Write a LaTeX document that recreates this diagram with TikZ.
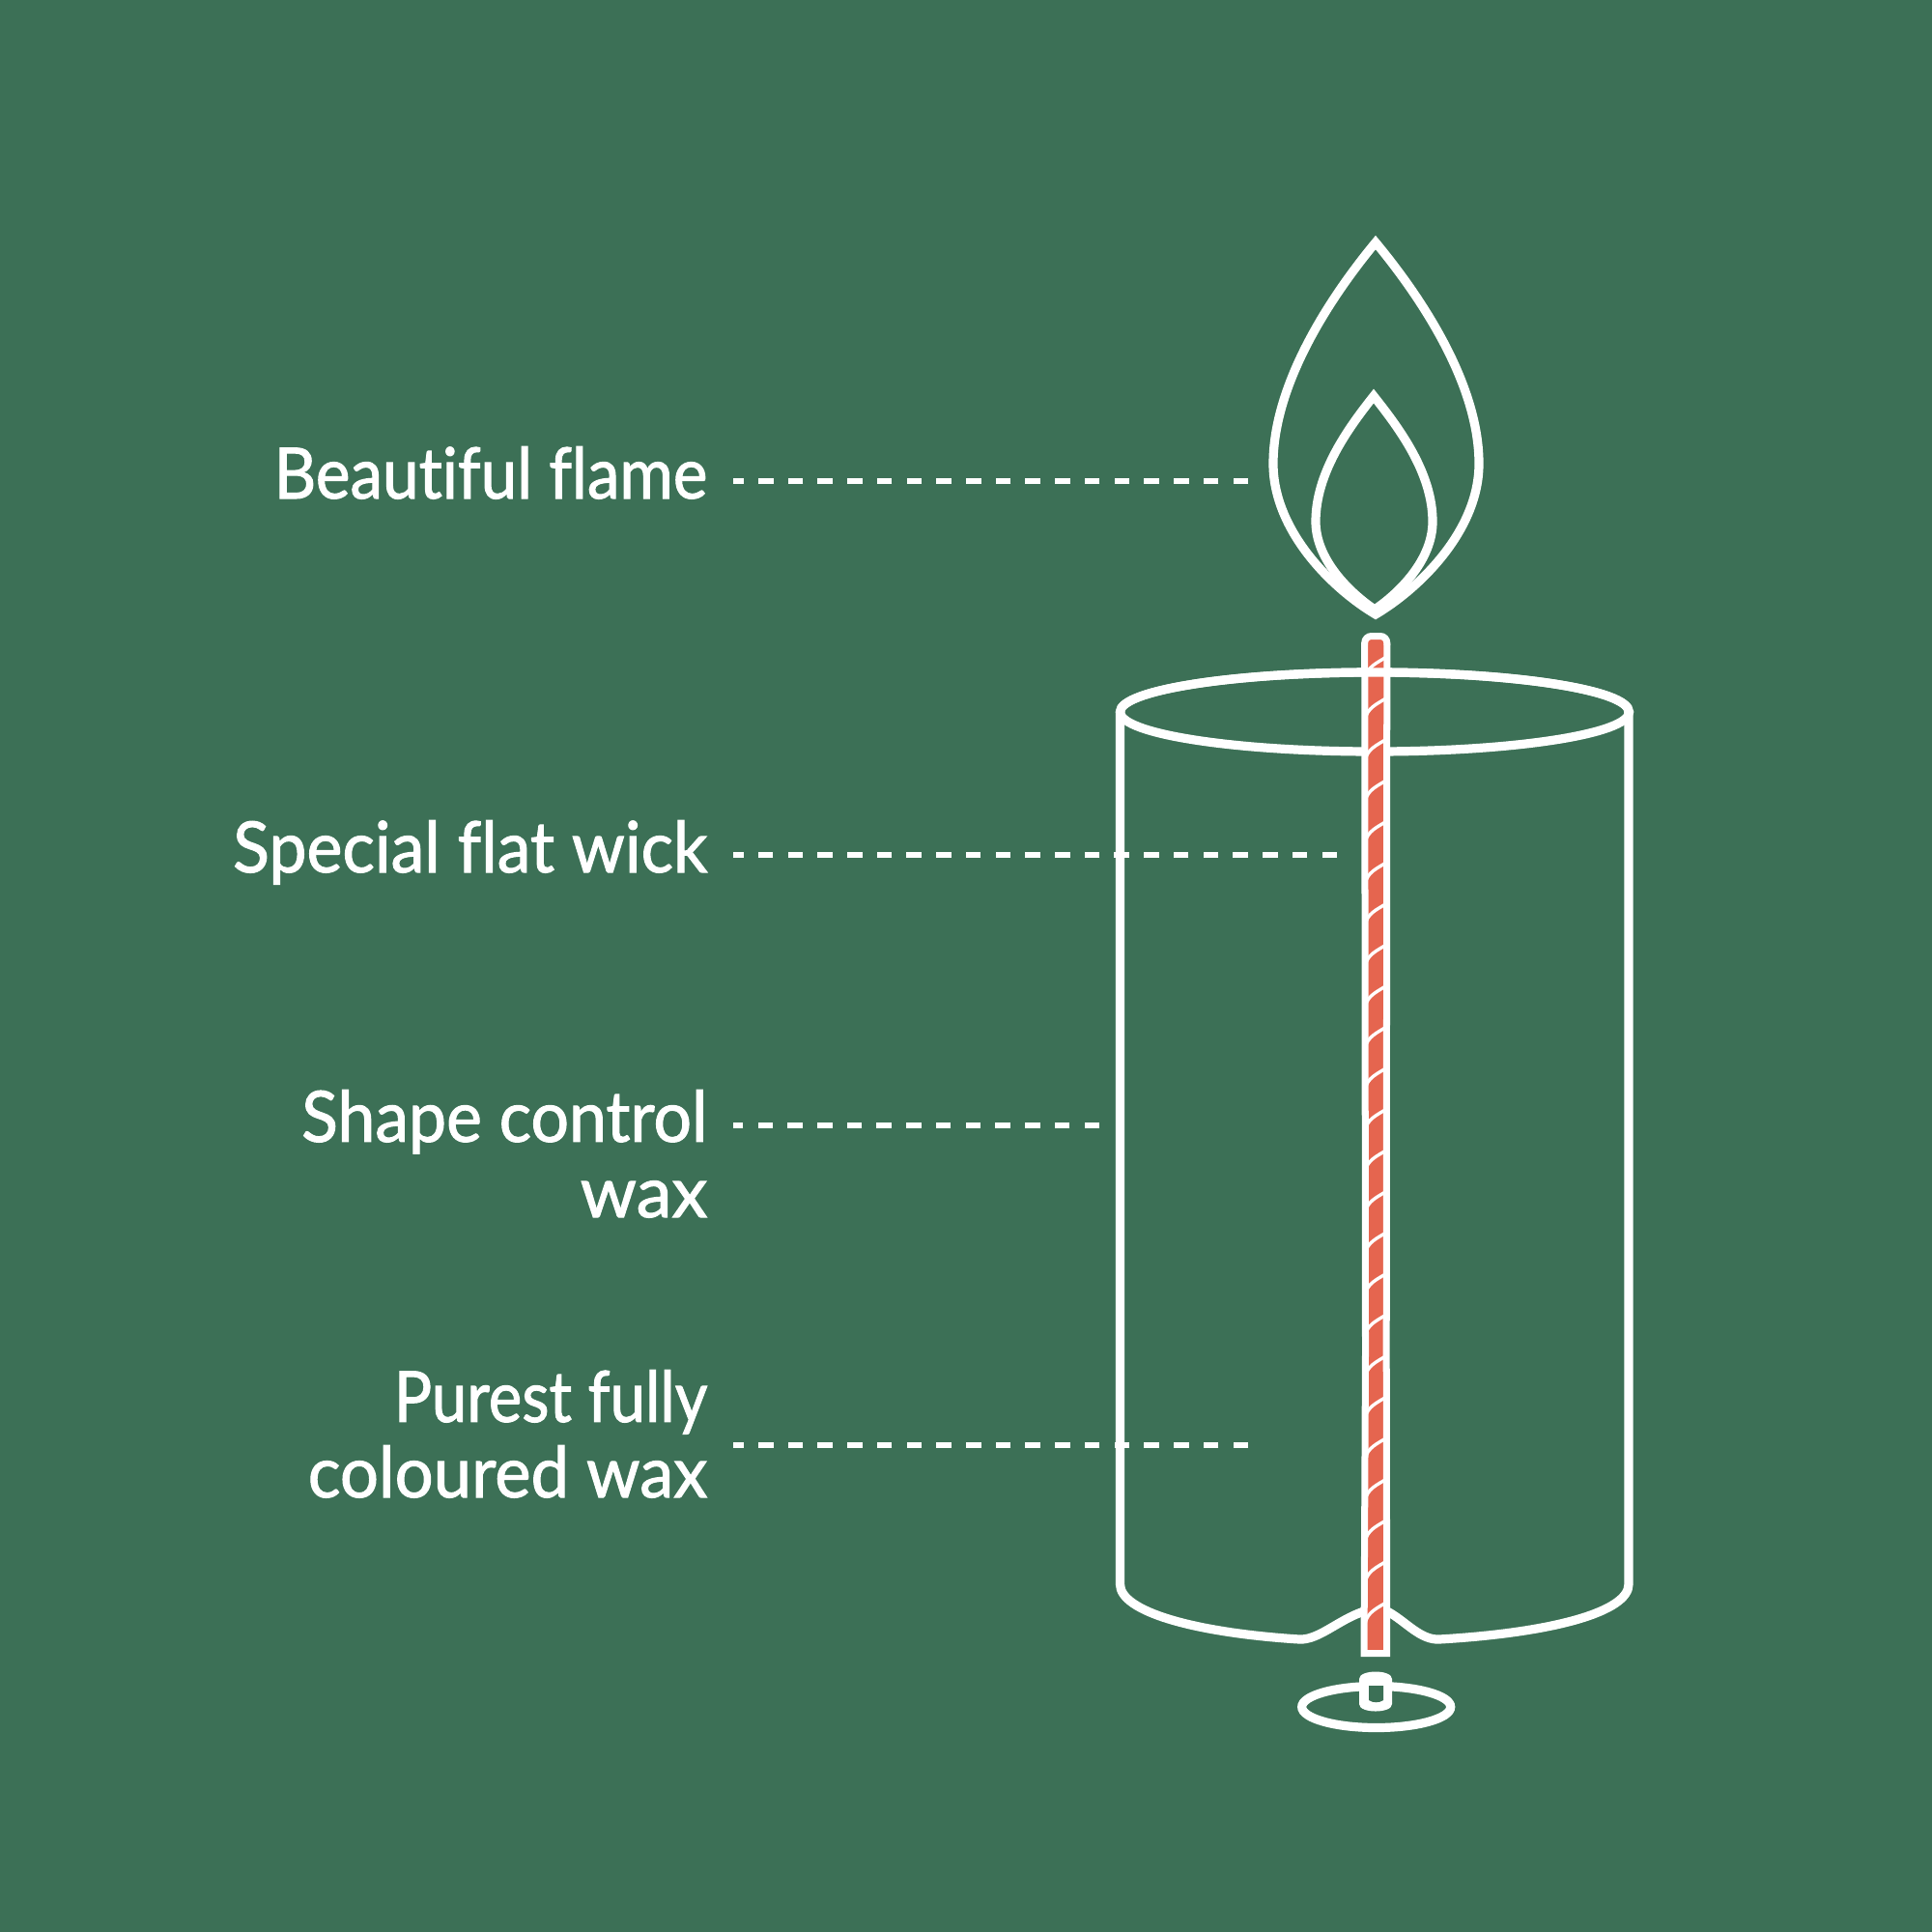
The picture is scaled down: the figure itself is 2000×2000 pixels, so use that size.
\documentclass[tikz,border=0pt]{standalone}
\usepackage{graphicx}
\usepackage{fontspec}
\setmainfont[FakeStretch=0.965, FakeBold=1.4, Ligatures=NoCommon]{Lato}
\usetikzlibrary{calc}
\definecolor{pine}{HTML}{3C7056}
\definecolor{ember}{HTML}{E5654F}
\newcommand{\narrowed}[2]{\scalebox{#1}[1]{#2}}
\tikzset{
  x=0.01cm, y=-0.01cm,
  outline/.style={draw=white, line width=0.092cm, line join=miter, miter limit=10},
  wickwall/.style={draw=white, line width=0.07cm},
  twist/.style={draw=white, line width=0.034cm},
  leader/.style={draw=white, line width=0.06cm, dash pattern=on 0.155cm off 0.152cm},
  caption/.style={anchor=base east, text=white, inner sep=0pt, align=right,
    font=\fontsize{20.8}{22.2}\selectfont}
}
\begin{document}
\begin{tikzpicture}
\useasboundingbox[fill=pine] (0,0) rectangle (2000,2000);

% Flame
\draw[outline] (1424,251) .. controls (1385,298) and (1318,392) .. (1318,480)
  .. controls (1318,550) and (1380,610) .. (1424,636)
  .. controls (1468,610) and (1531,550) .. (1531,480)
  .. controls (1531,392) and (1463,298) .. (1424,251) -- cycle;
\draw[outline] (1422,410) .. controls (1395,444) and (1362,490) .. (1362,540)
  .. controls (1362,578) and (1395,612) .. (1423,631)
  .. controls (1451,612) and (1483,578) .. (1483,540)
  .. controls (1483,490) and (1449,444) .. (1422,410) -- cycle;

% Candle body
\draw[outline, line join=round] (1159.5,737) -- (1159.5,1640)
  .. controls (1159.5,1668) and (1235,1690) .. (1345,1697)
  .. controls (1365,1698) and (1385,1677) .. (1412,1668);
\draw[outline, line join=round] (1686,737) -- (1686,1640)
  .. controls (1686,1668) and (1610,1690) .. (1490,1697)
  .. controls (1470,1698) and (1455,1678) .. (1436,1668);
\draw[outline] (1423,737) ellipse [x radius=263.5, y radius=41];

% Wick with its twisted strand
\coordinate (wickBL) at (1412,1711.5);
\coordinate (wickBR) at (1435.7,1711.5);
\coordinate (wickML) at (1413.5,1400);
\coordinate (wickMR) at (1435.2,1400);
\coordinate (wickTL) at (1412.7,658.5);
\coordinate (wickTR) at (1435.8,658.5);
\fill[ember] (wickBL) -- (wickML) -- (wickTL) -- (wickTR) -- (wickMR) -- (wickBR) -- cycle;
\begin{scope}
  \clip (wickBL) -- (wickML) -- (wickTL) -- (wickTR) -- (wickMR) -- (wickBR) -- cycle;
  \foreach \y in {699,741.55,...,1700}
    \draw[twist] (1413,\y+3) .. controls (1416,\y-9) and (1424,\y-12) .. (1437,\y-20);
\end{scope}
\draw[wickwall, line join=miter] ($(wickTL)+(0,8)$) -- (wickML) -- (wickBL) -- (wickBR) -- (wickMR) -- ($(wickTR)+(0,8)$);
\draw[wickwall, rounded corners=0.07cm] ($(wickTL)+(0,9)$) -- (wickTL) -- (wickTR) -- ($(wickTR)+(0,9)$);

% Front rim passes over the wick
\draw[outline] (1159.5,737) arc [start angle=180, end angle=360, x radius=263.25, y radius=41];

% Foot of the wick
\draw[outline] (1424.7,1767) ellipse [x radius=77, y radius=21.5];
\fill[white] (1407,1738) .. controls (1407,1728) and (1441,1728) .. (1441,1738)
  -- (1441,1764) .. controls (1441,1774) and (1407,1774) .. (1407,1764) -- cycle;
\fill[pine] (1417,1745) -- (1432,1745) -- (1432,1760)
  .. controls (1428,1763) and (1421,1763) .. (1417,1760) -- cycle;

% Labels
\node[caption] (flame) at (733,516) {\narrowed{0.955}{Beautiful flame}};
\node[caption] (wick) at (733,903) {\narrowed{0.99}{Special flat wick}};
\node[caption] (shape) at (733,1260) {\narrowed{0.988}{Shape control}\\\narrowed{1.05}{wax}};
\node[caption] (pure) at (733,1550) {\narrowed{0.925}{Purest fully}\\coloured wax};

% Leader lines
\coordinate (flameTip) at (1292,498);
\coordinate (wickTip) at (1384,885);
\coordinate (shapeTip) at (1138,1165);
\coordinate (pureTip) at (1292,1496);
\draw[leader] (flameTip) -- ($(flame.east |- flameTip)+(26,0)$);
\draw[leader] (wickTip) -- ($(wick.east |- wickTip)+(26,0)$);
\draw[leader] (shapeTip) -- ($(shape.east |- shapeTip)+(26,0)$);
\draw[leader] (pureTip) -- ($(pure.east |- pureTip)+(26,0)$);
\end{tikzpicture}
\end{document}
